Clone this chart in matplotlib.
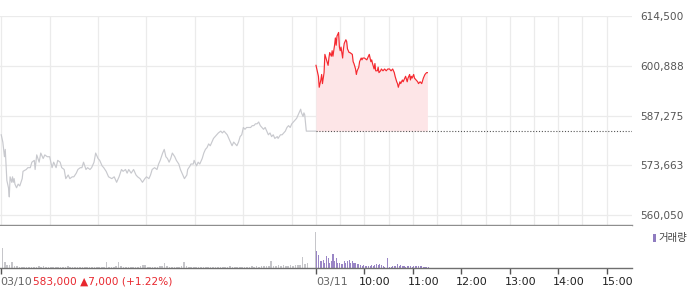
import matplotlib

matplotlib.use("Agg")

import matplotlib.pyplot as plt
import matplotlib.transforms as mtransforms
from matplotlib.patches import Rectangle

# minutes since 09:00 of each session, prices in KRW
day1_minutes = [
    0, 2, 4, 5, 7, 9, 10, 11, 13, 14,
    15, 16, 17, 19, 21, 23, 26, 27, 31, 33,
    36, 38, 41, 42, 44, 47, 49, 52, 54, 57,
    60, 63, 65, 68, 70, 73, 75, 78, 80, 83,
    85, 88, 90, 93, 95, 98, 100, 102, 105, 107,
    110, 112, 115, 117, 120, 122, 125, 127, 130, 133,
    137, 140, 143, 146, 149, 151, 154, 156, 158, 161,
    164, 167, 169, 172, 175, 178, 180, 183, 185, 187,
    190, 193, 195, 197, 200, 202, 204, 206, 208, 210,
    212, 215, 217, 220, 222, 225, 227, 230, 231, 234,
    235, 238, 239, 242, 244, 246, 249, 251, 253, 255,
    257, 259, 261, 263, 265, 267, 269, 272, 274, 276,
    278, 280, 282, 284, 286, 288, 290, 292, 294, 296,
    298, 300, 302, 304, 306, 309, 311, 313, 315, 317,
    319, 321, 323, 325, 327, 329, 331, 333, 335, 337,
    339, 342, 343, 346, 348, 350, 352, 354, 356, 358,
    360, 362, 364, 366, 367, 369, 371, 372, 374, 375,
    376, 378, 390,
]
day1_prices = [
    582000, 580000, 576000, 578000, 569500, 567500, 565000, 570500, 569000, 570500,
    569000, 570000, 568500, 567500, 568500, 568000, 570000, 572000, 572500, 573000,
    573000, 574500, 575000, 572500, 576500, 574500, 577000, 575500, 576500, 576000,
    576000, 573000, 574500, 573000, 575000, 574500, 573000, 572500, 570000, 571000,
    570000, 570500, 570500, 571500, 572500, 573000, 573000, 574500, 572500, 573000,
    572500, 573000, 574500, 577000, 575500, 575000, 573500, 573000, 572000, 570500,
    570000, 570500, 569000, 570500, 572500, 572000, 572500, 571500, 572500, 571500,
    572500, 571000, 570500, 570000, 569000, 570000, 570500, 570000, 571000, 572500,
    573000, 572500, 574000, 575000, 577000, 578000, 576000, 575500, 574500, 575500,
    577000, 576000, 575000, 574000, 572500, 571000, 570000, 571000, 572500, 573500,
    574000, 574000, 575000, 573500, 574500, 574000, 575500, 577000, 578000, 578500,
    579500, 579000, 580000, 581000, 581500, 582000, 582500, 583000, 582500, 583000,
    582500, 582000, 581000, 580000, 579000, 580000, 579500, 579000, 580000, 581500,
    582000, 584000, 583500, 584000, 584000, 584000, 584500, 584500, 585000, 585000,
    585500, 584500, 584000, 583500, 584000, 583000, 582000, 582500, 581500, 582000,
    581000, 581500, 581000, 582000, 582000, 582500, 583000, 584000, 584500, 584000,
    585000, 585500, 586000, 586500, 587000, 588000, 589000, 588000, 587000, 588000,
    587500, 583000, 583000,
]

day2_minutes = [
    0, 1, 3, 4, 6, 7, 8, 10, 11, 13,
    15, 16, 17, 19, 20, 21, 23, 24, 25, 26,
    28, 29, 30, 31, 32, 33, 34, 35, 37, 38,
    39, 41, 42, 45, 46, 47, 49, 50, 51, 53,
    54, 56, 57, 58, 60, 63, 65, 66, 68, 69,
    70, 72, 73, 74, 76, 77, 78, 80, 81, 83,
    85, 87, 89, 91, 93, 95, 97, 98, 100, 101,
    102, 104, 105, 107, 108, 110, 111, 113, 114, 116,
    117, 118, 119, 121, 122, 124, 126, 127, 129, 131,
    133, 135, 137, 138,
]
day2_prices = [
    601000, 600000, 598000, 595000, 597000, 598500, 596000, 599000, 604000, 602500,
    601000, 603000, 604500, 603500, 605000, 603500, 606500, 608500, 606500, 609000,
    610000, 606000, 605000, 606000, 604500, 603000, 605500, 607000, 608000, 607500,
    605500, 604500, 604500, 604000, 602000, 601500, 600000, 598500, 599500, 600500,
    602000, 603000, 602500, 603000, 603000, 602500, 603500, 604000, 602000, 602500,
    601500, 600000, 601500, 599500, 599500, 600500, 599000, 599500, 600000, 599500,
    600000, 599500, 600000, 600000, 599500, 600000, 599000, 598000, 596500, 596000,
    595000, 596500, 596000, 597000, 596500, 597500, 598000, 596500, 597500, 598500,
    597000, 598000, 597500, 598500, 597500, 597000, 596500, 596000, 596500, 596000,
    597500, 598500, 599000, 599000,
]

prev_close = 583000

# volume, thousand shares; day 1 in 3 minute buckets, day 2 in 2 minute buckets
day1_volume = [
    20, 6, 3, 3, 6, 2, 2, 1.5, 1.5, 1,
    1.5, 1.5, 1, 1.5, 1, 2, 1.5, 2, 1.5, 1,
    1.5, 1.5, 1, 1.5, 1, 1, 1.5, 2, 1.5, 1,
    1.5, 1, 1, 1.5, 1, 1.5, 1, 1.5, 1, 1.5,
    1.5, 1, 1.5, 6, 1.5, 1, 1.5, 2, 6.5, 2,
    1.5, 1, 1.5, 1, 1.5, 1, 1.5, 2, 3.5, 3,
    1.5, 1, 1.5, 1, 1.5, 2.5, 2, 5, 2.5, 1.5,
    1, 1.5, 1.5, 1, 2, 6, 2, 1.5, 1, 1.5,
    1.5, 1, 1.5, 1, 1.5, 1, 1.5, 1, 1.5, 1,
    1, 1.5, 1, 1.5, 2.5, 1, 1, 1.5, 1, 1.5,
    1.5, 1, 1.5, 2, 1.5, 2, 1.5, 2, 2, 2.5,
    2, 7, 2, 2.5, 3, 2.5, 3, 2, 2.5, 3,
    2.5, 3, 3, 3.5, 11, 4, 5, 0, 0, 0,
]
day1_close_volume = 36
day2_volume = [
    17, 13, 7, 7, 8, 5, 12, 10, 5, 6.7,
    14, 7, 10, 5, 5, 4.3, 4, 6.7, 5, 6.7,
    8.3, 5, 6.7, 5.5, 5, 4, 4.3, 3.5, 2.3, 2.7,
    1.7, 1.7, 1.7, 1.7, 2.7, 1.7, 3, 4.3, 3.3, 4.3,
    3.5, 1.7, 1.2, 0.5, 10, 1.2, 1.5, 1.7, 2.3, 2,
    4.3, 1.7, 3.3, 1.7, 1.7, 1.5, 2.3, 2.3, 1.7, 1.5,
    2.3, 2, 1.7, 2.3, 1.7, 1.7, 1.5, 1.5, 1.2, 1,
]

y_ticks = [560050, 573663, 587275, 600888, 614500]
y_labels = ["560,050", "573,663", "587,275", "600,888", "614,500"]
hour_labels = ["10:00", "11:00", "12:00", "13:00", "14:00", "15:00"]
session_len = 390

W, H = 700, 289
fig = plt.figure(figsize=(W / 100, H / 100), dpi=100)
plt.rcParams["font.family"] = "DejaVu Sans"

ax = fig.add_axes([0, 1 - 225 / H, 632 / W, (225 - 16) / H])
vax = fig.add_axes([0, 1 - 268 / H, 632 / W, (268 - 226) / H])

x1 = day1_minutes
x2 = [session_len + m for m in day2_minutes]

ax.plot(x1, day1_prices, color="#c8c9ce", lw=0.85)
ax.fill_between(x2, day2_prices, prev_close, color="#fde5e7", lw=0)
ax.plot(x2, day2_prices, color="#f5282f", lw=0.85)
ax.plot([session_len, 2 * session_len + 1.5], [prev_close, prev_close],
        color="#555555", lw=0.8, ls=(0, (1, 1.6)))

ax.set_xlim(-1.5, 2 * session_len + 1.5)
ax.set_ylim(557314, 614500)
grid_x = list(range(0, 2 * session_len, 60)) + list(range(session_len, 2 * session_len, 60))
ax.set_xticks(sorted(set(grid_x)))
ax.set_xticklabels([])
ax.set_yticks(y_ticks)
ax.set_yticklabels(y_labels)
ax.yaxis.tick_right()
ax.tick_params(axis="both", length=0)
ax.tick_params(axis="y", pad=6, labelsize=7.6, labelcolor="#555555")
ax.grid(True, color="#ebebeb", lw=0.9)
ax.set_axisbelow(True)
for side in ["top", "left", "right"]:
    ax.spines[side].set_visible(False)
ax.spines["bottom"].set_color("#8e8e8e")
ax.spines["bottom"].set_linewidth(1.0)

# volume pane
v1_x = [3 * i + 1.5 for i in range(len(day1_volume))]
vax.bar(v1_x, day1_volume, width=2.0, color="#c6c6ca", lw=0)
vax.bar([session_len - 0.6], [day1_close_volume], width=1.0, color="#c6c6ca", lw=0)
v2_x = [session_len + 0.4 + 2 * i for i in range(len(day2_volume))]
vax.bar(v2_x, day2_volume, width=1.3, align="edge", color="#9a86c6", lw=0)

vax.set_xlim(-1.5, 2 * session_len + 1.5)
vax.set_ylim(0, 42)
tick_x = [0] + list(range(session_len, 2 * session_len, 60))
vax.set_xticks(tick_x)
vax.set_xticklabels([])
vax.set_yticks([])
vax.tick_params(axis="x", length=4, width=1, color="#555555", direction="out")
for side in ["top", "left", "right"]:
    vax.spines[side].set_visible(False)
vax.spines["bottom"].set_color("#6f6f6f")
vax.spines["bottom"].set_linewidth(1.0)

trans = mtransforms.blended_transform_factory(vax.transData, vax.transAxes)
label_y = (268 - 282) / 42
vax.text(-1.5, label_y, "03/10", transform=trans, ha="left", va="center",
         fontsize=8, color="#666666")
vax.text(session_len, label_y, "03/11", transform=trans, ha="left", va="center",
         fontsize=8, color="#666666")
for i, lab in enumerate(hour_labels):
    vax.text(session_len + 60 * (i + 1) - 6.5, label_y, lab, transform=trans,
             ha="left", va="center", fontsize=8, color="#222222")
fig.text(33 / W, 1 - 282 / H, "583,000 \u25b27,000 (+1.22%)", ha="left", va="center",
         fontsize=7.6, color="#e8272e")

# volume legend
fig.patches.append(Rectangle((653 / W, 1 - 242 / H), 3 / W, 8 / H,
                             transform=fig.transFigure, color="#8f7cc0", lw=0))
fig.text(658 / W, 1 - 238 / H, "거래량", ha="left", va="center", fontsize=7.5,
         color="#444444", family=["Noto Sans CJK KR", "DejaVu Sans"])

fig.savefig("out.png", dpi=100)
